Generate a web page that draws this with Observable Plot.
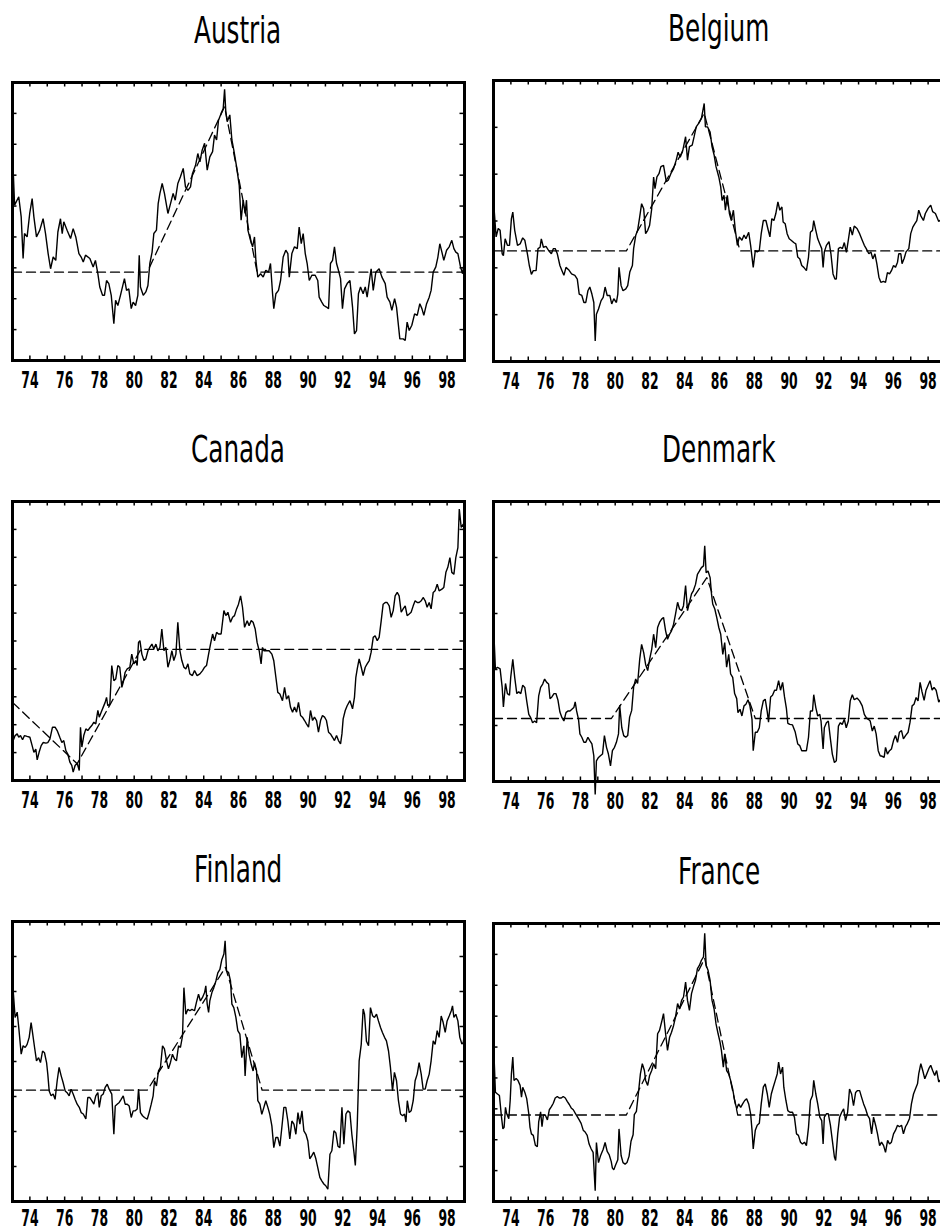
<!DOCTYPE html>
<html><head><meta charset="utf-8">
<script src="https://cdn.jsdelivr.net/npm/d3@7"></script>
<script src="https://cdn.jsdelivr.net/npm/@observablehq/plot@0.6"></script>
<style>
html,body{margin:0;padding:0;background:#fff;overflow:hidden;width:940px;height:1231px;position:relative;}
.panel{position:absolute;overflow:visible;}
.panel svg{max-width:none !important;display:block;}
.title{position:absolute;font-family:"DejaVu Sans";font-size:38px;line-height:38px;white-space:nowrap;color:#000;transform-origin:0 0;}
</style></head><body>
<script>
const countries = ["Austria","Belgium","Canada","Denmark","Finland","France"];
const xLabels = [74,76,78,80,82,84,86,88,90,92,94,96,98];
const yearTicks = [74,75,76,77,78,79,80,81,82,83,84,85,86,87,88,89,90,91,92,93,94,95,96,97,98];

const austria = [[73.04,61.6],[73.12,50.3],[73.36,53.0],[73.50,46.5],[73.61,33.0],[73.69,41.1],[73.84,40.0],[73.99,47.6],[74.13,52.4],[74.23,46.5],[74.38,40.0],[74.57,42.2],[74.76,45.9],[74.90,41.1],[75.05,34.6],[75.19,29.7],[75.34,33.5],[75.49,32.4],[75.61,41.6],[75.76,45.9],[75.86,41.1],[75.95,44.9],[76.14,42.2],[76.34,39.5],[76.49,42.7],[76.64,40.0],[76.82,34.6],[76.95,33.5],[77.07,31.9],[77.20,34.1],[77.45,33.0],[77.64,30.3],[77.77,32.4],[77.91,28.1],[78.02,23.8],[78.18,21.1],[78.29,21.1],[78.41,25.9],[78.54,24.9],[78.68,21.1],[78.83,11.9],[78.93,19.5],[79.06,17.8],[79.21,21.1],[79.37,24.9],[79.44,26.5],[79.56,22.7],[79.69,23.2],[79.83,16.8],[79.94,18.9],[80.08,17.8],[80.21,21.1],[80.29,34.1],[80.36,23.8],[80.52,21.1],[80.67,22.2],[80.79,24.3],[80.90,31.4],[81.03,35.1],[81.13,41.1],[81.28,42.2],[81.38,50.8],[81.48,54.1],[81.61,57.3],[81.74,54.1],[81.94,47.6],[82.09,50.8],[82.24,54.1],[82.36,51.9],[82.51,57.3],[82.66,59.5],[82.82,62.2],[82.95,56.2],[83.09,55.1],[83.24,56.2],[83.35,60.5],[83.53,63.2],[83.66,67.0],[83.78,64.3],[83.91,68.1],[84.05,70.3],[84.20,61.6],[84.35,65.9],[84.51,67.6],[84.62,73.0],[84.74,71.4],[84.85,77.8],[85.00,80.0],[85.12,81.6],[85.20,87.8],[85.27,80.5],[85.35,77.3],[85.50,79.5],[85.62,71.4],[85.73,68.1],[85.89,62.7],[86.04,56.8],[86.15,45.4],[86.27,51.9],[86.38,47.6],[86.46,51.9],[86.54,42.2],[86.69,38.9],[86.81,36.8],[86.92,40.0],[87.00,32.4],[87.11,27.0],[87.27,28.1],[87.42,27.0],[87.57,29.2],[87.73,28.6],[87.84,31.4],[87.96,21.6],[88.03,16.8],[88.15,21.6],[88.30,22.7],[88.42,25.9],[88.57,33.5],[88.72,35.7],[88.84,34.6],[88.92,27.0],[89.07,34.6],[89.22,36.8],[89.38,36.2],[89.49,43.2],[89.61,37.8],[89.72,41.1],[89.84,34.6],[89.95,31.4],[90.07,25.9],[90.22,27.6],[90.41,27.6],[90.56,25.9],[90.64,20.5],[90.79,18.9],[90.91,17.8],[91.06,17.3],[91.18,16.8],[91.29,31.4],[91.41,32.4],[91.52,36.8],[91.64,31.4],[91.75,29.2],[91.87,26.5],[91.98,16.8],[92.10,23.2],[92.25,24.9],[92.41,25.9],[92.56,17.3],[92.67,8.6],[92.79,9.7],[92.90,21.6],[93.02,23.8],[93.17,21.6],[93.29,23.8],[93.40,20.5],[93.56,27.0],[93.63,29.7],[93.75,22.7],[93.90,28.6],[94.09,29.7],[94.25,27.0],[94.44,24.9],[94.55,20.5],[94.71,18.9],[94.82,16.2],[94.98,20.0],[95.09,17.3],[95.21,10.8],[95.28,7.0],[95.47,7.0],[95.59,6.5],[95.70,12.4],[95.82,9.7],[95.97,11.4],[96.13,15.1],[96.28,14.6],[96.43,18.4],[96.55,16.8],[96.66,14.6],[96.82,18.4],[96.97,20.5],[97.08,22.7],[97.20,28.6],[97.35,30.3],[97.47,33.5],[97.58,37.8],[97.70,35.1],[97.81,32.4],[97.97,35.7],[98.12,36.8],[98.27,38.9],[98.39,36.2],[98.50,35.1],[98.62,34.6],[98.77,30.3],[98.89,28.1],[99.00,32.4]];

const belgium = [[73.04,32.3],[73.15,26.6],[73.27,28.4],[73.38,28.0],[73.50,23.0],[73.57,22.6],[73.67,26.2],[73.80,24.8],[73.92,24.8],[74.03,30.5],[74.11,31.9],[74.22,28.0],[74.38,24.8],[74.53,25.1],[74.68,26.4],[74.80,25.9],[74.95,23.0],[75.06,20.5],[75.18,18.6],[75.29,19.4],[75.45,19.4],[75.56,24.1],[75.68,24.4],[75.75,26.2],[75.87,24.4],[76.02,24.6],[76.17,23.7],[76.33,23.0],[76.44,24.1],[76.55,24.1],[76.67,23.0],[76.82,20.5],[76.94,19.4],[77.05,18.4],[77.17,20.1],[77.32,19.6],[77.49,18.7],[77.68,18.4],[77.82,17.6],[77.93,14.4],[78.08,14.1],[78.20,12.6],[78.31,12.6],[78.43,15.1],[78.54,15.9],[78.66,14.4],[78.77,12.6],[78.85,4.4],[78.92,10.1],[79.04,11.2],[79.19,13.0],[79.31,13.7],[79.42,15.9],[79.54,14.1],[79.69,14.1],[79.80,12.3],[79.92,13.4],[80.07,12.6],[80.15,14.4],[80.22,20.1],[80.34,16.2],[80.45,15.1],[80.61,15.5],[80.72,16.2],[80.84,19.1],[80.99,20.5],[81.06,24.1],[81.18,26.9],[81.29,28.0],[81.41,30.9],[81.52,33.7],[81.64,32.6],[81.75,27.3],[81.87,28.0],[81.98,29.1],[82.10,32.6],[82.21,39.4],[82.29,36.9],[82.40,39.4],[82.52,40.1],[82.63,41.6],[82.78,41.9],[82.94,38.4],[83.05,38.7],[83.20,40.1],[83.36,41.2],[83.51,43.0],[83.62,44.7],[83.74,43.6],[83.89,45.1],[84.05,48.0],[84.16,43.0],[84.27,45.9],[84.43,46.2],[84.54,48.0],[84.66,50.1],[84.81,50.9],[84.96,51.9],[85.12,55.1],[85.19,50.1],[85.31,50.1],[85.46,49.0],[85.57,45.9],[85.69,44.1],[85.80,41.6],[85.96,39.4],[86.07,37.3],[86.15,34.4],[86.26,35.5],[86.34,32.3],[86.45,35.5],[86.57,31.6],[86.68,30.1],[86.80,32.3],[86.91,28.0],[87.03,24.8],[87.14,26.6],[87.29,25.9],[87.41,27.0],[87.52,26.2],[87.68,27.6],[87.79,24.8],[87.94,20.1],[88.06,23.7],[88.17,23.4],[88.29,23.7],[88.40,27.3],[88.52,30.1],[88.67,30.1],[88.78,28.4],[88.90,26.6],[89.01,30.5],[89.13,30.1],[89.24,31.6],[89.36,34.1],[89.47,32.3],[89.59,33.0],[89.66,29.8],[89.78,29.4],[89.89,27.3],[90.01,26.2],[90.12,25.9],[90.27,25.4],[90.39,25.1],[90.50,22.3],[90.62,21.9],[90.73,20.5],[90.85,20.1],[91.00,19.4],[91.12,22.3],[91.23,27.6],[91.35,28.0],[91.42,30.1],[91.54,28.0],[91.65,26.2],[91.77,25.1],[91.88,24.1],[91.96,20.1],[92.03,23.4],[92.15,24.8],[92.30,25.6],[92.41,23.0],[92.53,18.7],[92.64,17.6],[92.72,17.6],[92.84,24.1],[92.95,24.4],[93.07,24.1],[93.18,25.4],[93.30,23.3],[93.41,25.9],[93.52,28.7],[93.64,27.0],[93.75,28.9],[93.91,28.4],[94.06,27.3],[94.21,25.9],[94.33,24.8],[94.44,24.1],[94.59,23.0],[94.71,23.4],[94.82,21.9],[94.94,23.0],[95.05,20.9],[95.17,18.0],[95.28,16.9],[95.43,17.1],[95.55,16.9],[95.66,19.0],[95.78,18.7],[95.89,19.4],[96.01,20.5],[96.12,20.1],[96.24,21.2],[96.31,23.0],[96.43,23.0],[96.50,20.9],[96.62,22.0],[96.73,23.4],[96.89,24.1],[97.00,27.3],[97.12,28.7],[97.23,29.4],[97.35,30.1],[97.46,32.3],[97.58,31.1],[97.73,30.1],[97.84,31.6],[98.00,32.7],[98.15,33.4],[98.26,32.0],[98.42,31.6],[98.61,29.9],[98.80,30.5],[99.00,31.0]];

const canada = [[73.04,14.3],[73.15,16.1],[73.27,16.7],[73.36,15.5],[73.46,16.1],[73.58,14.6],[73.69,16.1],[73.84,15.8],[74.00,15.5],[74.13,12.5],[74.23,10.1],[74.34,11.3],[74.42,7.4],[74.53,10.1],[74.65,12.5],[74.76,13.6],[74.92,13.4],[75.03,13.6],[75.15,14.8],[75.30,19.1],[75.45,19.1],[75.57,17.9],[75.72,15.5],[75.84,13.6],[75.95,14.3],[76.07,10.7],[76.18,9.5],[76.30,6.6],[76.41,5.4],[76.49,3.0],[76.60,5.4],[76.72,6.2],[76.84,3.6],[76.91,19.1],[76.99,12.0],[77.10,16.1],[77.22,18.5],[77.33,17.9],[77.45,18.9],[77.56,19.7],[77.68,20.9],[77.79,20.3],[77.91,25.1],[77.99,22.7],[78.10,24.5],[78.22,26.3],[78.33,28.0],[78.41,29.8],[78.48,26.8],[78.60,27.4],[78.71,41.2],[78.83,35.8],[78.94,36.4],[79.06,41.2],[79.17,40.6],[79.29,33.4],[79.37,35.2],[79.48,38.8],[79.60,40.0],[79.75,40.6],[79.86,45.3],[79.98,41.8],[80.09,43.0],[80.17,41.2],[80.25,49.5],[80.33,50.1],[80.44,45.3],[80.56,43.0],[80.67,43.6],[80.79,46.5],[80.90,47.7],[81.02,48.9],[81.13,47.1],[81.25,48.9],[81.36,46.5],[81.48,47.7],[81.59,54.3],[81.71,46.5],[81.82,47.7],[81.94,40.6],[82.05,43.0],[82.17,46.5],[82.28,43.0],[82.40,45.3],[82.51,56.7],[82.63,46.5],[82.74,43.0],[82.86,40.6],[82.97,40.0],[83.09,41.8],[83.20,38.2],[83.35,37.6],[83.47,39.4],[83.62,37.6],[83.78,38.2],[83.93,39.4],[84.05,40.6],[84.16,41.2],[84.28,45.3],[84.39,48.9],[84.51,52.5],[84.62,50.1],[84.74,53.1],[84.85,52.5],[85.00,52.5],[85.16,60.9],[85.27,59.1],[85.39,60.3],[85.54,56.7],[85.66,58.5],[85.77,59.1],[85.89,61.5],[86.00,63.2],[86.12,66.2],[86.23,62.1],[86.35,54.9],[86.50,57.3],[86.61,55.5],[86.73,57.3],[86.84,56.7],[86.96,54.3],[87.07,49.5],[87.19,46.5],[87.30,41.8],[87.38,47.7],[87.46,46.5],[87.61,46.5],[87.76,46.5],[87.92,45.3],[88.03,42.9],[88.15,37.0],[88.26,31.6],[88.38,31.0],[88.53,28.6],[88.65,33.4],[88.76,29.2],[88.88,30.4],[88.99,26.3],[89.11,24.5],[89.22,26.3],[89.34,24.5],[89.45,28.0],[89.57,23.3],[89.68,22.7],[89.80,21.5],[89.91,20.3],[90.03,19.1],[90.14,25.1],[90.26,21.5],[90.37,22.7],[90.49,21.5],[90.60,17.3],[90.72,21.5],[90.83,23.3],[90.95,22.7],[91.06,21.5],[91.18,17.3],[91.29,16.7],[91.41,15.5],[91.52,14.3],[91.64,16.1],[91.75,14.3],[91.87,13.1],[91.95,16.7],[92.02,22.1],[92.14,25.1],[92.25,26.8],[92.41,28.6],[92.56,25.7],[92.67,29.8],[92.75,37.0],[92.83,40.0],[92.94,43.6],[93.06,40.6],[93.17,37.6],[93.29,40.6],[93.40,41.8],[93.52,43.0],[93.63,46.0],[93.75,51.3],[93.86,51.9],[93.98,50.1],[94.09,51.3],[94.21,57.3],[94.32,63.2],[94.44,63.8],[94.55,63.8],[94.67,62.6],[94.78,58.5],[94.90,60.9],[95.01,66.2],[95.13,67.4],[95.24,66.2],[95.36,60.3],[95.47,61.5],[95.59,62.6],[95.70,59.1],[95.82,59.7],[95.93,60.3],[96.05,62.6],[96.16,64.4],[96.28,63.8],[96.39,63.8],[96.51,64.4],[96.62,65.6],[96.74,64.4],[96.85,62.1],[96.97,63.8],[97.08,61.5],[97.20,67.4],[97.31,68.0],[97.43,70.4],[97.54,68.0],[97.70,68.6],[97.81,69.2],[97.93,74.6],[98.04,76.4],[98.16,79.9],[98.27,74.6],[98.39,73.9],[98.50,79.9],[98.62,83.5],[98.70,97.3],[98.81,90.7],[98.93,91.9],[99.00,89.5]];

const denmark = [[73.04,25.1],[73.11,20.1],[73.23,20.4],[73.38,20.1],[73.50,16.8],[73.57,13.3],[73.69,17.5],[73.80,15.7],[73.92,15.4],[73.99,18.6],[74.11,21.8],[74.22,18.6],[74.34,15.7],[74.45,16.0],[74.57,15.7],[74.68,17.2],[74.80,16.8],[74.91,14.4],[75.03,12.0],[75.14,11.4],[75.25,10.5],[75.37,10.8],[75.48,10.5],[75.60,15.3],[75.71,16.8],[75.83,17.4],[75.94,18.3],[76.06,17.7],[76.17,17.4],[76.25,14.8],[76.36,15.1],[76.48,15.7],[76.59,15.7],[76.71,14.5],[76.82,12.4],[76.94,11.4],[77.05,10.8],[77.17,12.3],[77.28,12.6],[77.40,12.6],[77.51,12.9],[77.62,13.2],[77.70,14.2],[77.78,12.6],[77.89,11.1],[77.97,8.5],[78.08,7.9],[78.20,7.0],[78.31,7.0],[78.43,7.9],[78.54,7.3],[78.66,6.7],[78.77,4.6],[78.85,-2.3],[78.92,3.7],[79.04,4.3],[79.15,4.6],[79.27,4.9],[79.38,8.2],[79.50,6.1],[79.61,4.9],[79.73,2.8],[79.84,5.5],[79.96,6.1],[80.07,7.0],[80.19,8.5],[80.26,13.6],[80.38,9.6],[80.49,8.2],[80.61,7.9],[80.72,8.2],[80.83,11.5],[80.95,12.7],[81.06,16.9],[81.18,18.3],[81.29,17.5],[81.41,21.8],[81.52,24.5],[81.64,23.0],[81.75,20.9],[81.87,19.8],[81.98,21.8],[82.10,23.6],[82.21,26.3],[82.33,23.9],[82.44,27.5],[82.55,28.4],[82.67,29.0],[82.78,29.3],[82.90,26.9],[83.01,25.4],[83.13,26.3],[83.24,26.9],[83.36,28.1],[83.47,29.9],[83.59,32.0],[83.70,30.8],[83.82,30.5],[83.93,31.4],[84.05,35.0],[84.16,30.5],[84.27,32.0],[84.39,33.5],[84.50,34.1],[84.62,35.2],[84.73,37.0],[84.85,37.6],[84.96,38.2],[85.08,38.5],[85.15,42.1],[85.23,37.3],[85.34,37.6],[85.46,36.4],[85.54,33.5],[85.61,31.7],[85.73,30.8],[85.84,29.3],[85.96,27.5],[86.07,26.3],[86.19,22.7],[86.30,24.8],[86.41,20.4],[86.53,22.7],[86.64,19.2],[86.76,18.6],[86.87,15.7],[86.99,14.8],[87.06,12.3],[87.18,12.9],[87.29,11.7],[87.41,13.5],[87.52,13.8],[87.64,14.6],[87.75,13.5],[87.87,11.1],[87.94,5.5],[88.06,8.8],[88.17,8.8],[88.29,9.6],[88.40,12.6],[88.52,14.4],[88.63,14.7],[88.75,12.4],[88.82,10.6],[88.94,15.1],[89.05,15.4],[89.17,16.3],[89.28,16.3],[89.40,18.0],[89.51,16.3],[89.63,17.7],[89.74,15.1],[89.85,13.0],[89.93,10.4],[90.05,10.2],[90.20,10.1],[90.35,8.9],[90.50,6.7],[90.62,6.4],[90.73,5.5],[90.85,5.5],[91.00,5.5],[91.12,7.9],[91.23,12.6],[91.35,12.6],[91.42,15.5],[91.54,13.2],[91.65,11.7],[91.77,12.0],[91.84,10.8],[91.96,5.8],[92.03,9.6],[92.15,10.5],[92.26,10.8],[92.38,7.6],[92.49,4.9],[92.61,3.4],[92.72,3.7],[92.84,9.9],[92.95,10.5],[93.06,10.2],[93.18,11.1],[93.29,9.6],[93.41,10.8],[93.52,14.4],[93.64,15.5],[93.75,14.6],[93.91,14.9],[94.06,14.4],[94.21,13.5],[94.33,12.0],[94.44,11.4],[94.56,11.1],[94.67,10.8],[94.79,9.0],[94.90,9.9],[95.01,8.5],[95.13,5.5],[95.24,4.6],[95.36,4.5],[95.47,4.3],[95.55,6.1],[95.66,4.9],[95.78,5.5],[95.89,5.8],[96.01,7.3],[96.12,8.2],[96.24,7.0],[96.35,8.8],[96.47,9.1],[96.58,7.6],[96.70,8.2],[96.85,8.8],[96.96,10.6],[97.08,13.5],[97.19,13.8],[97.31,15.0],[97.42,14.4],[97.54,17.7],[97.65,16.0],[97.77,14.5],[97.88,16.3],[98.00,17.2],[98.11,18.0],[98.23,16.3],[98.34,16.8],[98.46,16.3],[98.61,14.2],[98.80,15.0],[99.00,15.5]];

const finland = [[73.04,60.2],[73.15,52.6],[73.27,54.1],[73.36,49.7],[73.50,42.1],[73.61,44.5],[73.73,44.0],[73.84,44.9],[73.96,46.9],[74.07,51.1],[74.15,48.3],[74.27,44.0],[74.38,40.2],[74.50,41.1],[74.61,39.7],[74.73,43.0],[74.84,42.5],[74.96,39.7],[75.03,36.4],[75.11,31.6],[75.22,30.2],[75.34,30.7],[75.45,29.2],[75.57,34.5],[75.68,38.3],[75.80,35.9],[75.91,34.0],[76.03,31.6],[76.14,31.1],[76.26,30.2],[76.37,32.1],[76.49,30.7],[76.60,29.2],[76.72,27.8],[76.84,26.9],[76.95,25.4],[77.07,25.0],[77.22,23.6],[77.33,29.7],[77.45,29.7],[77.56,28.8],[77.68,27.8],[77.79,30.2],[77.91,31.1],[77.99,26.9],[78.10,30.2],[78.22,30.7],[78.33,32.6],[78.45,33.5],[78.56,32.1],[78.71,30.7],[78.83,19.2],[78.91,27.3],[79.02,27.8],[79.14,28.3],[79.25,29.2],[79.37,30.2],[79.48,27.8],[79.60,27.8],[79.71,27.3],[79.83,24.0],[79.94,25.9],[80.06,25.9],[80.17,26.4],[80.25,32.1],[80.36,25.4],[80.48,24.5],[80.59,24.0],[80.75,23.5],[80.86,25.4],[80.98,27.8],[81.09,30.2],[81.17,34.5],[81.28,33.0],[81.40,37.3],[81.51,38.3],[81.63,44.5],[81.74,43.6],[81.86,40.2],[81.97,37.9],[82.09,39.8],[82.20,42.1],[82.32,40.7],[82.43,40.2],[82.55,44.5],[82.66,44.0],[82.78,47.3],[82.86,61.1],[82.97,53.5],[83.09,54.9],[83.20,54.5],[83.32,54.9],[83.47,54.5],[83.58,56.9],[83.70,59.2],[83.81,57.3],[83.93,58.3],[84.05,59.7],[84.12,61.6],[84.20,56.4],[84.28,54.0],[84.35,57.3],[84.47,59.7],[84.58,61.1],[84.70,63.0],[84.81,65.3],[84.93,66.3],[85.04,69.1],[85.16,70.7],[85.23,74.5],[85.31,65.9],[85.43,65.4],[85.54,63.0],[85.62,56.4],[85.73,55.4],[85.85,52.6],[85.96,48.8],[86.08,47.8],[86.19,41.1],[86.31,44.5],[86.38,35.9],[86.50,46.9],[86.61,42.1],[86.73,39.2],[86.84,37.3],[86.92,39.7],[87.04,37.3],[87.11,28.8],[87.23,27.8],[87.34,24.9],[87.46,26.9],[87.57,28.8],[87.69,26.9],[87.80,24.9],[87.92,21.6],[88.03,15.4],[88.15,18.3],[88.26,18.3],[88.38,15.8],[88.49,21.0],[88.61,26.9],[88.72,26.9],[88.84,23.0],[88.95,17.9],[89.07,23.0],[89.19,22.1],[89.30,19.2],[89.42,25.4],[89.53,22.1],[89.65,25.9],[89.76,20.2],[89.88,19.2],[89.99,17.3],[90.10,12.2],[90.22,13.1],[90.33,14.1],[90.45,12.2],[90.56,9.7],[90.68,6.9],[90.79,5.9],[90.91,5.0],[91.02,4.5],[91.14,3.5],[91.26,13.5],[91.37,14.5],[91.49,20.2],[91.60,19.6],[91.72,15.8],[91.83,15.4],[91.95,26.9],[92.06,16.4],[92.18,25.0],[92.29,25.9],[92.41,25.4],[92.52,19.2],[92.64,14.1],[92.72,10.3],[92.83,21.7],[92.94,40.2],[93.06,44.9],[93.17,55.0],[93.25,53.5],[93.36,45.8],[93.48,44.5],[93.59,55.4],[93.71,53.1],[93.82,52.6],[93.94,53.5],[94.05,51.6],[94.17,49.7],[94.28,48.3],[94.40,46.9],[94.51,45.9],[94.63,43.0],[94.74,38.3],[94.86,31.6],[94.97,36.9],[95.09,34.5],[95.20,28.8],[95.32,25.0],[95.44,24.5],[95.55,25.0],[95.63,22.7],[95.71,28.8],[95.82,25.4],[95.93,25.9],[96.05,28.8],[96.16,34.5],[96.28,36.4],[96.39,39.7],[96.51,36.4],[96.62,32.1],[96.74,32.1],[96.85,34.5],[96.97,36.4],[97.08,40.2],[97.20,45.9],[97.31,44.9],[97.43,48.8],[97.54,46.9],[97.66,53.0],[97.77,51.2],[97.89,48.3],[98.00,51.6],[98.12,53.0],[98.24,54.5],[98.31,55.9],[98.39,52.6],[98.50,53.5],[98.62,51.6],[98.73,46.9],[98.85,45.0],[98.93,45.4],[99.00,48.3]];

const france = [[73.04,45.7],[73.11,35.4],[73.23,34.8],[73.34,34.3],[73.46,27.3],[73.54,23.5],[73.61,24.0],[73.69,30.5],[73.76,28.4],[73.88,26.8],[73.96,32.7],[74.03,41.3],[74.11,46.8],[74.18,39.2],[74.30,39.8],[74.41,39.2],[74.53,37.6],[74.61,33.8],[74.68,37.0],[74.80,35.4],[74.91,33.3],[75.03,28.4],[75.10,24.0],[75.18,21.9],[75.29,21.4],[75.41,18.2],[75.52,17.7],[75.60,25.8],[75.71,29.0],[75.79,24.2],[75.87,28.0],[75.98,28.0],[76.10,26.4],[76.21,29.7],[76.33,30.7],[76.44,31.8],[76.55,33.5],[76.67,34.0],[76.78,33.5],[76.90,33.5],[77.01,34.0],[77.13,33.5],[77.24,32.4],[77.36,31.4],[77.47,30.3],[77.59,29.7],[77.70,28.6],[77.82,27.5],[77.93,26.4],[78.04,25.3],[78.16,23.1],[78.27,22.5],[78.39,21.4],[78.50,18.6],[78.62,17.0],[78.73,15.9],[78.85,3.5],[78.92,19.1],[79.04,12.6],[79.15,14.7],[79.31,16.9],[79.42,19.1],[79.54,16.2],[79.65,15.2],[79.77,13.0],[79.84,10.8],[79.92,10.3],[80.03,11.9],[80.15,13.5],[80.22,23.5],[80.34,14.9],[80.45,12.6],[80.57,12.1],[80.68,12.6],[80.80,14.7],[80.91,19.5],[81.03,21.6],[81.10,28.1],[81.22,29.2],[81.33,34.8],[81.45,41.3],[81.56,44.6],[81.68,42.4],[81.75,39.2],[81.87,37.6],[81.98,40.8],[82.10,42.4],[82.21,44.6],[82.33,43.0],[82.44,54.3],[82.55,55.4],[82.67,58.1],[82.78,60.8],[82.90,54.3],[83.01,48.9],[83.13,53.2],[83.24,54.8],[83.36,57.0],[83.47,59.7],[83.59,64.1],[83.70,62.3],[83.82,65.1],[83.93,66.2],[84.05,71.0],[84.16,65.1],[84.27,61.9],[84.39,67.3],[84.50,69.5],[84.62,71.6],[84.73,75.4],[84.85,76.5],[84.96,78.1],[85.08,79.2],[85.15,86.8],[85.23,76.5],[85.34,74.9],[85.46,71.6],[85.57,65.1],[85.69,62.3],[85.80,57.5],[85.92,54.3],[86.03,51.6],[86.11,48.9],[86.22,43.5],[86.30,47.8],[86.41,42.4],[86.53,41.3],[86.64,39.2],[86.76,36.4],[86.87,32.7],[86.99,30.0],[87.10,31.6],[87.22,30.5],[87.33,31.6],[87.45,32.7],[87.56,33.3],[87.68,31.6],[87.79,28.4],[87.87,23.1],[87.94,17.0],[88.06,23.1],[88.17,24.7],[88.29,25.3],[88.40,31.6],[88.52,37.0],[88.63,38.1],[88.75,34.8],[88.86,30.5],[88.98,34.8],[89.09,37.0],[89.21,39.2],[89.32,41.3],[89.40,45.1],[89.51,41.3],[89.63,43.5],[89.70,37.0],[89.82,32.7],[89.93,29.4],[90.05,28.9],[90.20,28.9],[90.31,27.3],[90.43,21.9],[90.54,21.4],[90.66,19.2],[90.77,18.6],[90.89,19.2],[91.00,18.1],[91.12,24.0],[91.23,32.7],[91.35,34.3],[91.42,39.2],[91.54,34.8],[91.65,31.6],[91.77,27.3],[91.88,26.2],[91.96,18.6],[92.03,27.3],[92.15,28.4],[92.26,28.4],[92.38,24.7],[92.49,19.8],[92.61,14.4],[92.68,13.3],[92.80,21.9],[92.91,27.3],[93.03,28.9],[93.14,30.0],[93.25,26.2],[93.37,28.9],[93.48,36.4],[93.60,34.8],[93.71,31.0],[93.83,35.3],[93.94,35.9],[94.06,35.9],[94.17,33.8],[94.29,31.6],[94.40,30.0],[94.52,27.9],[94.63,26.8],[94.75,21.9],[94.86,27.3],[94.98,24.7],[95.09,21.9],[95.21,18.1],[95.32,19.2],[95.44,18.1],[95.55,15.9],[95.67,19.8],[95.78,18.6],[95.89,19.2],[96.01,21.9],[96.12,23.0],[96.24,24.7],[96.35,24.2],[96.47,24.7],[96.58,21.9],[96.70,24.2],[96.81,25.3],[96.93,26.9],[97.04,31.6],[97.16,34.8],[97.27,36.4],[97.39,38.1],[97.46,41.3],[97.58,44.6],[97.69,42.4],[97.81,39.7],[97.92,41.3],[98.04,43.0],[98.15,44.1],[98.26,42.4],[98.38,40.8],[98.49,42.4],[98.61,38.7],[98.80,40.0],[99.00,41.0]];

const austriaTrend = [[73,28.6],[80.75,28.6],[85.2,82.2],[87.07,28.6],[99,28.6]];
const belgiumTrend = [[73,23.6],[80.64,23.6],[85.12,53.0],[87.18,23.6],[99,23.6]];
const canadaTrend  = [[73,28.0],[76.72,6.0],[80.38,47.0],[99,47.0]];
const denmarkTrend = [[73,11.25],[79.78,11.25],[85.27,36.4],[88.06,11.25],[99,11.25]];
const finlandTrend = [[73,31.8],[80.75,31.8],[85.25,66.9],[87.36,31.8],[99,31.8]];
const franceTrend  = [[73,28.0],[80.64,28.0],[85.15,78.7],[87.05,28.0],[99,28.0]];

const yMaxes = [90, 60, 100, 50, 80, 90];
const seriesList = [austria, belgium, canada, denmark, finland, france];
const trendList = [austriaTrend, belgiumTrend, canadaTrend, denmarkTrend, finlandTrend, franceTrend];

// layout (frame boxes in page pixels)
const boxes = [
  {left: 12, top: 82, bottom: 360, pad: 11.5},
  {left: 493, top: 80, bottom: 361, pad: 11},
  {left: 12, top: 501, bottom: 780, pad: 11.5},
  {left: 493, top: 501, bottom: 781, pad: 11},
  {left: 12, top: 921, bottom: 1201, pad: 8},
  {left: 493, top: 923, bottom: 1201, pad: 8}
];
const FRAME_W = 452;
const M = 4, MB = 34;

countries.forEach((name, i) => {
  const box = boxes[i];
  const H = box.bottom - box.top;
  const yMax = yMaxes[i];
  const yTicks = d3.range(10, yMax, 10);
  const plot = Plot.plot({
    width: FRAME_W + 2 * M,
    height: H + M + MB,
    marginLeft: M, marginRight: M, marginTop: M, marginBottom: MB,
    x: {domain: [73, 99], ticks: xLabels, tickSize: 0, tickPadding: box.pad, tickFormat: d => String(d), label: null},
    y: {domain: [0, yMax], axis: null},
    style: {background: "transparent", fontFamily: "DejaVu Sans", fontSize: "23px", fontWeight: "bold", color: "#000", overflow: "visible", maxWidth: "none"},
    marks: [
      Plot.tickX(yearTicks, {x: d => d, insetTop: H - 4.5, stroke: "#000", strokeWidth: 1.5}),
      Plot.tickX(yearTicks, {x: d => d, insetBottom: H - 4.5, stroke: "#000", strokeWidth: 1.5}),
      Plot.tickY(yTicks, {y: d => d, insetRight: FRAME_W - 4.5, stroke: "#000", strokeWidth: 1.5}),
      Plot.tickY(yTicks, {y: d => d, insetLeft: FRAME_W - 4.5, stroke: "#000", strokeWidth: 1.5}),
      Plot.line(trendList[i], {x: d => d[0], y: d => d[1], stroke: "#000", strokeWidth: 1.3, strokeDasharray: "9,5"}),
      Plot.line(seriesList[i], {x: d => d[0], y: d => d[1], stroke: "#000", strokeWidth: 1.4, strokeLinejoin: "miter"}),
      Plot.frame({stroke: "#000", strokeWidth: 3})
    ]
  });
  plot.style.maxWidth = "none";
  // condense tick labels horizontally
  plot.querySelectorAll("text").forEach(t => {
    if (/^\d\d$/.test(t.textContent.trim())) {
      const tr = t.getAttribute("transform") || "";
      t.setAttribute("transform", (tr + " scale(0.54,1)").trim());
    }
  });
  const wrap = document.createElement("div");
  wrap.className = "panel";
  wrap.style.left = (box.left - M) + "px";
  wrap.style.top = (box.top - M) + "px";
  wrap.style.width = (FRAME_W + 2 * M) + "px";
  wrap.appendChild(plot);
  document.body.appendChild(wrap);

  const title = document.createElement("div");
  title.className = "title";
  title.textContent = name;
  document.body.appendChild(title);
  const w = title.getBoundingClientRect().width;
  const sx = 0.65;
  title.style.left = (box.left + FRAME_W / 2 - w * sx / 2) + "px";
  title.style.top = (box.top - 38.5 - 32.1) + "px";
  title.style.transform = `scale(${sx},1)`;
});
</script>
</body></html>
